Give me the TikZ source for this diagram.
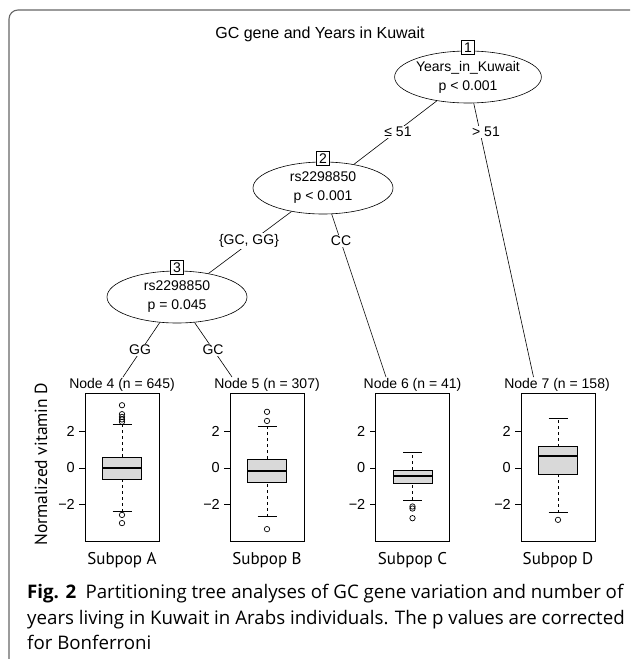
\documentclass[tikz,border=0pt]{standalone}
\usepackage{fontspec}
\setmainfont{Liberation Sans}
\newfontfamily\ptsans{PT Sans}
\newfontfamily\opensans{Open Sans}
\usetikzlibrary{shapes.geometric, positioning}

\definecolor{boxgray}{gray}{0.85}
\definecolor{framegray}{gray}{0.4}

\newcommand{\treefont}{\fontsize{14pt}{19pt}\selectfont}
\newcommand{\titlefont}{\fontsize{16pt}{19pt}\selectfont}
\newcommand{\axisfont}{\fontsize{14.5pt}{16pt}\selectfont}
\newcommand{\subfont}{\ptsans\fontsize{17pt}{19pt}\selectfont}
\newcommand{\ylabfont}{\ptsans\fontsize{17.5pt}{19pt}\selectfont}
\newcommand{\capfont}{\opensans\fontsize{18.7pt}{25.5pt}\selectfont}

\tikzset{
  innernode/.style={ellipse, draw, line width=0.6pt, minimum width=140pt, minimum height=52pt, inner sep=0pt, align=center, font=\treefont},
  idbox/.style={draw, fill=white, line width=0.6pt, minimum width=13pt, minimum height=14pt, inner sep=0pt, font=\treefont},
  treeedge/.style={line width=0.6pt},
  edgelabel/.style={fill=white, inner sep=1.5pt, font=\treefont},
  termlabel/.style={font=\treefont},
  panel/.style={line width=0.7pt},
  whisker/.style={line width=0.7pt, dash pattern=on 3pt off 3pt},
  boxbody/.style={draw, fill=boxgray, line width=0.8pt},
  medianline/.style={line width=2pt},
  outlier/.style={line width=0.7pt},
  roundframe/.style={draw=framegray, line width=1.1pt, rounded corners=9pt}
}

% boxplot panel: center, lower whisker, q1, median, q3, upper whisker, outliers, id
\newcommand{\boxpanel}[8]{%
  \begin{scope}[shift={(#1,468)}, y=18.25pt]
    \draw[panel] (-37,-4.04) rectangle (37,4.1);
    \foreach \v/\lab in {2/2, 0/0, -2/−2} {
      \draw[panel] (-37,\v) -- (-43,\v);
      \node[anchor=east, font=\axisfont, inner sep=0pt] (tick#8\v) at (-47,\v) {\lab};
    }
    \draw[whisker] (0,#2) -- (0,#3);
    \draw[whisker] (0,#5) -- (0,#6);
    \draw[panel] (-9.5,#2) -- (9.5,#2);
    \draw[panel] (-9.5,#6) -- (9.5,#6);
    \draw[boxbody] (-19.5,#3) rectangle (19.5,#5);
    \draw[medianline] (-19.5,#4) -- (19.5,#4);
    \foreach \o in {#7} \draw[outlier] (0,\o) circle (2.7pt);
  \end{scope}}

\begin{document}
\begin{tikzpicture}[x=1pt, y=-1pt]

    \useasboundingbox (0,0) rectangle (630,659);
    \clip (0,0) rectangle (630,659);

    % Border
    \draw[roundframe] (9,10) rectangle (660,680);

    % Title
    \node[font=\titlefont] (title) at (320,34) {GC gene and Years in Kuwait};

    % Inner nodes
    \node[innernode] (n1) at (468,77) {Years\_in\_Kuwait\\p < 0.001};
    \node[innernode] (n2) at (323,188) {rs2298850\\p < 0.001};
    \node[innernode] (n3) at (177,297) {rs2298850\\p = 0.045};

    % Edge ends at the terminal nodes
    \coordinate (t4) at (123,377);
    \coordinate (t5) at (232,377);
    \coordinate (t6) at (386,377);
    \coordinate (t7) at (533.5,377);

    % Edges
    \draw[treeedge] (n1) -- (n2);
    \draw[treeedge] (n1) -- (t7);
    \draw[treeedge] (n2) -- (n3);
    \draw[treeedge] (n2) -- (t6);
    \draw[treeedge] (n3) -- (t4);
    \draw[treeedge] (n3) -- (t5);

    % Node numbers
    \node[idbox] (b1) at ([yshift=3pt]n1.north) {1};
    \node[idbox] (b2) at ([yshift=3pt]n2.north) {2};
    \node[idbox] (b3) at ([yshift=3pt]n3.north) {3};

    % Split labels
    \node[edgelabel] (e12) at (398,132) {≤ 51};
    \node[edgelabel] (e17) at (486,132) {> 51};
    \node[edgelabel] (e23) at (249,241) {\{GC, GG\}};
    \node[edgelabel] (e26) at (341,241) {CC};
    \node[edgelabel] (e34) at (140,350) {GG};
    \node[edgelabel] (e35) at (213,350) {GC};

    % Terminal node labels
    \node[termlabel] (l4) at (122,385) {Node 4 (n = 645)};
    \node[termlabel] (l5) at (267,385) {Node 5 (n = 307)};
    \node[termlabel] (l6) at (412.5,385) {Node 6 (n = 41)};
    \node[termlabel] (l7) at (557,385) {Node 7 (n = 158)};

    % Boxplots
    \boxpanel{122}{-2.4}{-0.6}{0}{0.6}{2.4}{2.53,2.66,2.8,2.95,3.44,-2.57,-3.02}{A}
    \boxpanel{267}{-2.66}{-0.78}{-0.15}{0.49}{2.26}{2.58,3.08,-3.35}{B}
    \boxpanel{412.5}{-1.75}{-0.84}{-0.44}{-0.11}{0.84}{-2.11,-2.22,-2.75}{C}
    \boxpanel{558}{-2.44}{-0.35}{0.66}{1.16}{2.71}{-2.84}{D}

    % Axis title
    \node[font=\ylabfont, rotate=90] (ylab) at (41,464) {Normalized vitamin D};

    % Subpopulations
    \node[font=\subfont] (sA) at (122,560) {Subpop A};
    \node[font=\subfont] (sB) at (267,560) {Subpop B};
    \node[font=\subfont] (sC) at (412.5,560) {Subpop C};
    \node[font=\subfont] (sD) at (558,560) {Subpop D};

    % Caption
    \node[anchor=north west, inner sep=0pt, align=left, font=\capfont] (caption) at (27,584)
      {\textbf{Fig. 2}\hspace{0.5em}Partitioning tree analyses of GC gene variation and number of\\
       years living in Kuwait in Arabs individuals. The p values are corrected\\
       for Bonferroni};

\end{tikzpicture}
\end{document}
